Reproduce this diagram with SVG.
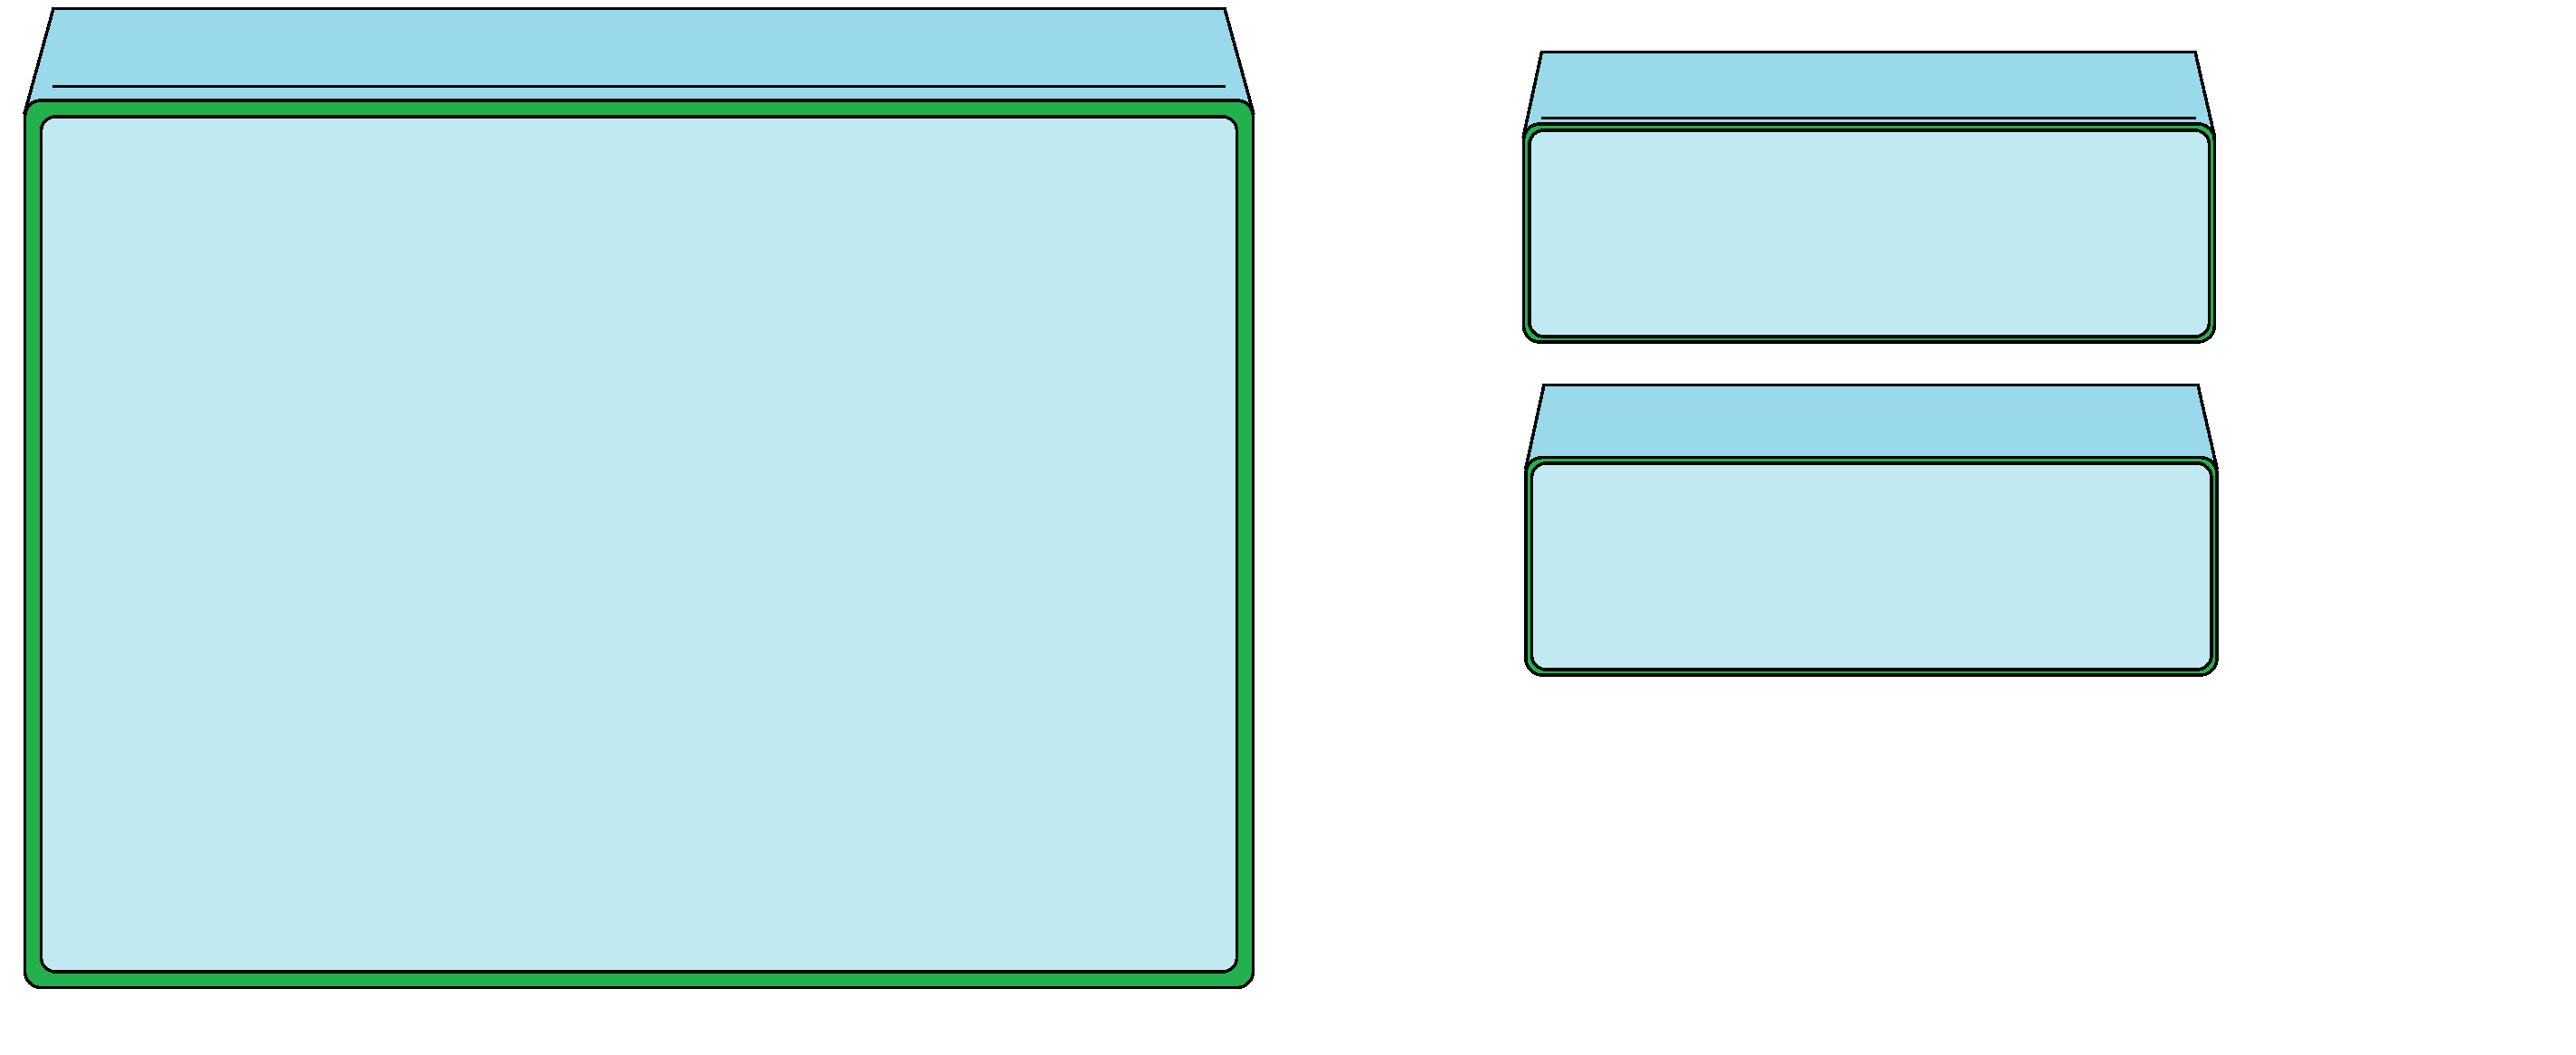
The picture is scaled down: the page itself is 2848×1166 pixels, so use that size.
<svg xmlns="http://www.w3.org/2000/svg" width="2848" height="1166" viewBox="0 0 2848 1166" shape-rendering="crispEdges">
<style>
.top{fill:#99d9ea;stroke:#000;stroke-width:3.6;stroke-linejoin:miter}
.frame{fill:#22b14c;stroke:#000;stroke-width:3.6}
.inner{fill:#c1e9f1;stroke:#000;stroke-width:3.6}
.rule{fill:none;stroke:#000;stroke-width:3.6}
</style>
<rect width="2848" height="1166" fill="#fff"/>
<g id="node-large">
<path class="top" d="M59 9.500H1354L1385.500 124H27.500Z"/>
<path class="rule" d="M58 95.500H1355"/>
<rect class="frame" x="27.500" y="111" width="1358" height="980.500" rx="18"/>
<rect class="inner" x="45.500" y="129" width="1322" height="945" rx="16"/>
</g>
<g id="node-upper">
<path class="top" d="M1704.500 57.500H2427L2448.300 150H1684.500Z"/>
<path class="rule" d="M1704 130.500H2428"/>
<rect class="frame" x="1684.500" y="137" width="763.800" height="241" rx="18"/>
<rect class="inner" x="1691" y="144" width="751.500" height="228" rx="16"/>
</g>
<g id="node-lower">
<path class="top" d="M1707 425.500H2430L2451 517H1687Z"/>
<rect class="frame" x="1687" y="505.500" width="764" height="240.500" rx="18"/>
<rect class="inner" x="1693.500" y="512" width="751.500" height="228" rx="16"/>
</g>
<g id="connectors"/>
</svg>
